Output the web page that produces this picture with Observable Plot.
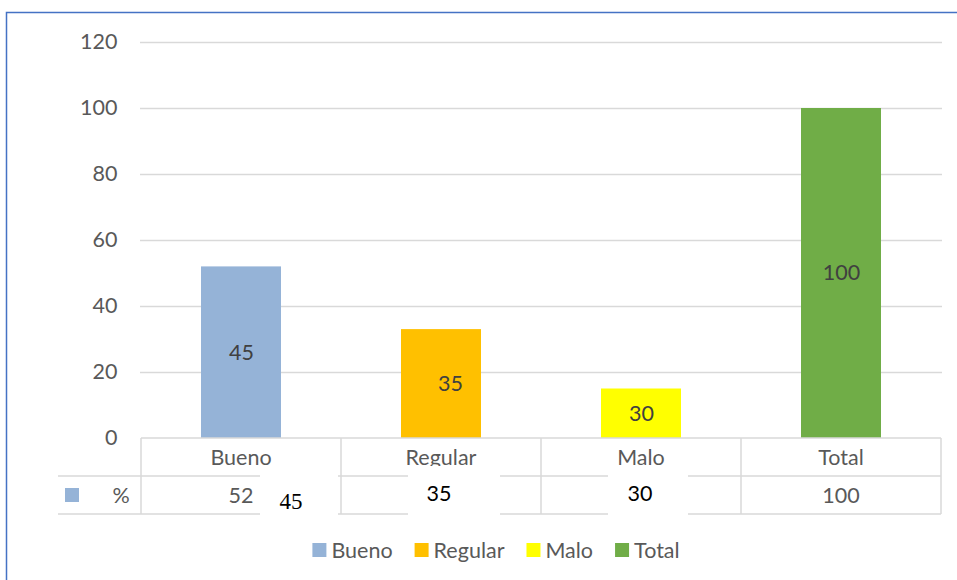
<!DOCTYPE html>
<html>
<head>
<meta charset="utf-8">
<script src="https://cdn.jsdelivr.net/npm/d3@7"></script>
<script src="https://cdn.jsdelivr.net/npm/@observablehq/plot@0.6"></script>
<style>
  html, body { margin: 0; padding: 0; background: #fff; }
</style>
</head>
<body>
<div id="chart"></div>
<script>
// ---- data ----
const categories = ["Bueno", "Regular", "Malo", "Total"];
const values = [52, 33, 15, 100];              // bar heights
const barLabels = ["45", "35", "30", "100"];    // labels shown inside the bars
const tableValues = [52, 33, 15, 100];          // data-table row "%"
const overlayLabels = ["45", "35", "30"];       // pasted boxes over the table
const colors = ["#95b3d7", "#ffc000", "#ffff00", "#70ad47"];
const yTicks = [0, 20, 40, 60, 80, 100, 120];
const seriesName = "%";

const data = categories.map((c, i) => ({cat: c, value: values[i], label: barLabels[i], tv: tableValues[i]}));

const FONT = "Lato, 'Open Sans', sans-serif";
const FS = 21.5;
const GRID = "#d9d9d9";

function tableMark(index, scales, vals, dims) {
  const {x, y} = scales;
  const g = d3.create("svg:g").attr("text-anchor", "middle");
  const step = x.step(), bw = x.bandwidth();
  const center = c => x(c) + bw / 2;
  const left = center(categories[0]) - step / 2;
  const right = center(categories[categories.length - 1]) + step / 2;
  const y0 = y(0), rowH = 38;
  const keyLeft = left - 83;
  const line = (x1, y1, x2, y2) => g.append("line").attr("x1", x1).attr("y1", y1).attr("x2", x2).attr("y2", y2)
    .attr("stroke", GRID).attr("stroke-width", 1.5);
  line(left, y0, right, y0);
  line(keyLeft, y0 + rowH, right, y0 + rowH);
  line(keyLeft, y0 + 2 * rowH, right, y0 + 2 * rowH);
  categories.forEach(c => line(center(c) - step / 2, y0, center(c) - step / 2, y0 + 2 * rowH));
  line(right, y0, right, y0 + 2 * rowH);
  // header row
  categories.forEach(c => g.append("text").attr("x", center(c)).attr("y", y0 + rowH / 2)
    .attr("dy", "0.35em").attr("fill", "#595959")
    .attr("font-family", FONT).attr("font-size", FS).text(c));
  // key swatch + series name
  g.append("rect").attr("x", keyLeft + 7).attr("y", y0 + rowH * 1.5 - 7).attr("width", 14).attr("height", 14)
    .attr("fill", scales.color(categories[0]));
  g.append("text").attr("x", keyLeft + 63).attr("y", y0 + rowH * 1.5).attr("dy", "0.35em")
    .attr("fill", "#595959").attr("font-family", FONT).attr("font-size", FS).text(seriesName);
  // value row (cells hidden behind a pasted box are not drawn)
  const covered = new Set([1, 2]);
  categories.forEach((c, i) => {
    if (covered.has(i)) return;
    g.append("text").attr("x", center(c)).attr("y", y0 + rowH * 1.5).attr("dy", "0.35em")
      .attr("fill", "#595959").attr("font-family", FONT).attr("font-size", FS).text(tableValues[i]);
  });
  // pasted white boxes with overlay numbers
  const boxDx = [58, 13, 7], boxW = [78, 92, 80], txtDx = [50, -2, -1];
  overlayLabels.forEach((t, i) => {
    const cx = center(categories[i]);
    g.append("rect").attr("x", cx + boxDx[i] - boxW[i] / 2).attr("y", y0 + rowH - 10)
      .attr("width", boxW[i]).attr("height", rowH + 18).attr("fill", "#fff");
    const serif = i === 0;
    g.append("text").attr("x", cx + txtDx[i]).attr("y", y0 + rowH * 1.5 + (serif ? 6 : -2)).attr("dy", "0.35em")
      .attr("fill", "#000")
      .attr("font-family", serif ? "'Liberation Serif', 'DejaVu Serif', serif" : FONT)
      .attr("font-size", serif ? 23 : FS).text(t);
  });
  return g.node();
}

function legendMark(index, scales, vals, dims) {
  const g = d3.create("svg:g").attr("text-anchor", "start");
  const ctx = document.createElement("canvas").getContext("2d");
  ctx.font = `${FS}px Lato`;
  const sw = 14, gapT = 5, gapI = 22;
  const widths = categories.map(c => sw + gapT + ctx.measureText(c).width);
  const total = d3.sum(widths) + gapI * (categories.length - 1);
  const cx = 496, cy = 550;
  let xx = cx - total / 2;
  categories.forEach((c, i) => {
    g.append("rect").attr("x", xx).attr("y", cy - sw / 2).attr("width", sw).attr("height", sw).attr("fill", scales.color(c));
    g.append("text").attr("x", xx + sw + gapT).attr("y", cy).attr("dy", "0.35em").attr("fill", "#595959")
      .attr("text-anchor", "start").attr("font-family", FONT).attr("font-size", FS).text(c);
    xx += widths[i] + gapI;
  });
  // chart-area frame (left and top edges visible)
  g.append("path").attr("d", `M6.5,${dims.height}V12.5H${dims.width}`).attr("fill", "none")
    .attr("stroke", "#4472c4").attr("stroke-width", 1.5);
  return g.node();
}

const chart = Plot.plot({
  width: 957,
  height: 580,
  marginLeft: 140,
  marginRight: 15,
  marginTop: 42,
  marginBottom: 142,
  style: {fontFamily: FONT, background: "transparent"},
  x: {domain: categories, paddingInner: 0.6, paddingOuter: 0.3, axis: null},
  y: {domain: [0, 120], label: null},
  color: {domain: categories, range: colors},
  marks: [
    Plot.gridY(yTicks.filter(t => t > 0), {stroke: GRID, strokeOpacity: 1, strokeWidth: 1.5}),
    Plot.axisY(yTicks, {tickSize: 0, tickPadding: 23, fontSize: FS, fill: "#595959", label: null}),
    Plot.barY(data, {x: "cat", y: "value", fill: "cat"}),
    Plot.text(data, {filter: d => d.cat !== "Regular", x: "cat", y: d => d.value / 2, text: "label", fontSize: FS, fill: "#404040"}),
    Plot.text(data, {filter: d => d.cat === "Regular", x: "cat", y: d => d.value / 2, text: "label", dx: 9, fontSize: FS, fill: "#404040"}),
    tableMark,
    legendMark
  ]
});
document.getElementById("chart").appendChild(chart);
</script>
</body>
</html>
